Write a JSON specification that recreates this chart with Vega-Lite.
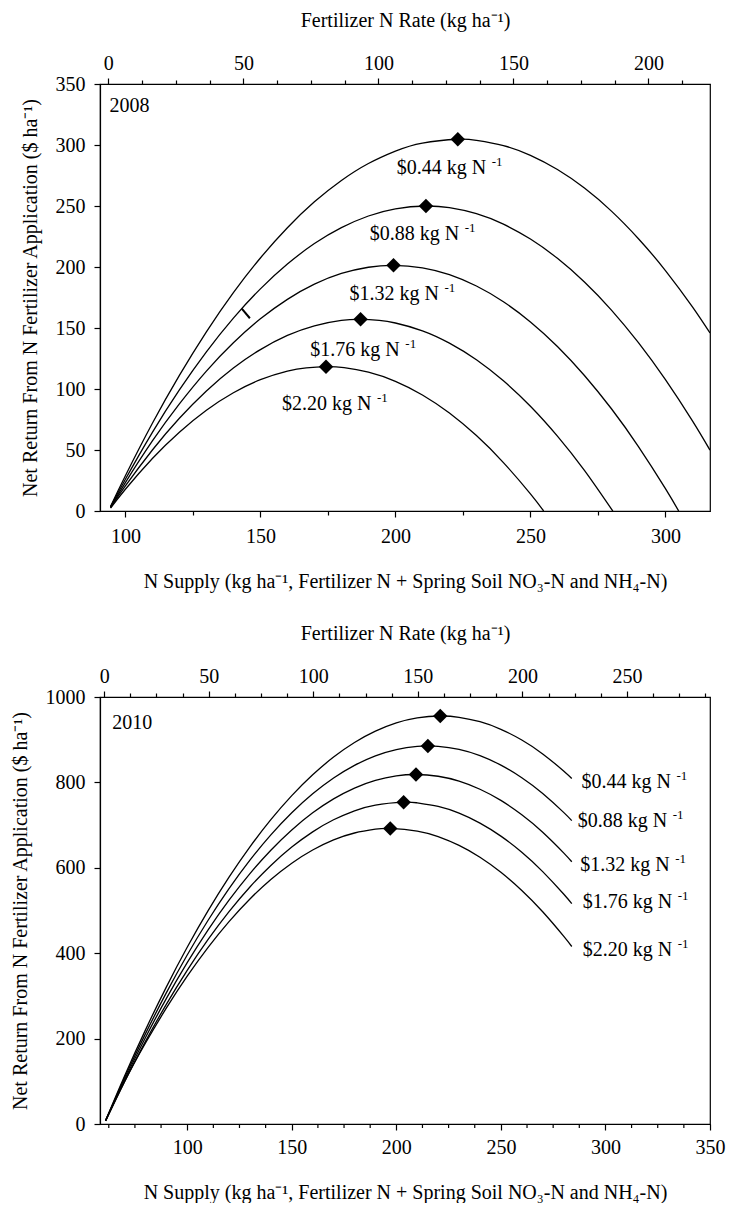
{
  "$schema": "https://vega.github.io/schema/vega-lite/v6.json",
  "padding": {"left": 9, "top": 9, "right": 0, "bottom": 0},
  "spacing": 30,
  "config": {
    "font": "Liberation Serif",
    "view": {"stroke": "black", "strokeWidth": 1.2},
    "axis": {"domainColor": "black", "tickColor": "black", "labelColor": "black", "titleColor": "black", "labelFontSize": 20, "titleFontSize": 20, "titleFontWeight": "normal", "labelFont": "Liberation Serif", "titleFont": "Liberation Serif", "grid": false, "tickSize": 6, "labelPadding": 4, "domainWidth": 1.2, "tickWidth": 1.2, "labelOverlap": false, "labelFlush": false, "format": "d"},
    "text": {"font": "Liberation Serif", "color": "black"}
  },
  "datasets": {
    "c2008": [
      {"price": "0.44", "N": 94.5, "R": 3.7}, {"price": "0.44", "N": 100, "R": 28.9}, {"price": "0.44", "N": 110, "R": 71.9}, {"price": "0.44", "N": 120, "R": 111.2}, {"price": "0.44", "N": 130, "R": 146.9}, {"price": "0.44", "N": 140, "R": 179.0}, {"price": "0.44", "N": 150, "R": 207.4}, {"price": "0.44", "N": 160, "R": 232.2}, {"price": "0.44", "N": 170, "R": 253.4}, {"price": "0.44", "N": 180, "R": 270.9}, {"price": "0.44", "N": 190, "R": 284.8}, {"price": "0.44", "N": 200, "R": 295.0}, {"price": "0.44", "N": 210, "R": 301.6}, {"price": "0.44", "N": 223.1, "R": 304.7}, {"price": "0.44", "N": 230, "R": 303.8}, {"price": "0.44", "N": 240, "R": 299.5}, {"price": "0.44", "N": 250, "R": 291.5}, {"price": "0.44", "N": 260, "R": 279.9}, {"price": "0.44", "N": 270, "R": 264.7}, {"price": "0.44", "N": 280, "R": 245.8}, {"price": "0.44", "N": 290, "R": 223.2}, {"price": "0.44", "N": 300, "R": 197.1}, {"price": "0.44", "N": 310, "R": 167.3}, {"price": "0.44", "N": 316.5, "R": 145.9},
      {"price": "0.88", "N": 94.5, "R": 3.4}, {"price": "0.88", "N": 100, "R": 26.0}, {"price": "0.88", "N": 110, "R": 64.5}, {"price": "0.88", "N": 120, "R": 99.3}, {"price": "0.88", "N": 130, "R": 130.5}, {"price": "0.88", "N": 140, "R": 158.1}, {"price": "0.88", "N": 150, "R": 182.1}, {"price": "0.88", "N": 160, "R": 202.4}, {"price": "0.88", "N": 170, "R": 219.2}, {"price": "0.88", "N": 180, "R": 232.3}, {"price": "0.88", "N": 190, "R": 241.8}, {"price": "0.88", "N": 200, "R": 247.7}, {"price": "0.88", "N": 211.3, "R": 250.0}, {"price": "0.88", "N": 220, "R": 248.6}, {"price": "0.88", "N": 230, "R": 243.7}, {"price": "0.88", "N": 240, "R": 235.1}, {"price": "0.88", "N": 250, "R": 222.9}, {"price": "0.88", "N": 260, "R": 207.1}, {"price": "0.88", "N": 270, "R": 187.7}, {"price": "0.88", "N": 280, "R": 164.7}, {"price": "0.88", "N": 290, "R": 138.0}, {"price": "0.88", "N": 300, "R": 107.7}, {"price": "0.88", "N": 310, "R": 73.9}, {"price": "0.88", "N": 316.5, "R": 49.9},
      {"price": "1.32", "N": 94.5, "R": 3.0}, {"price": "1.32", "N": 100, "R": 23.3}, {"price": "1.32", "N": 110, "R": 57.4}, {"price": "1.32", "N": 120, "R": 87.8}, {"price": "1.32", "N": 130, "R": 114.7}, {"price": "1.32", "N": 140, "R": 137.9}, {"price": "1.32", "N": 150, "R": 157.5}, {"price": "1.32", "N": 160, "R": 173.5}, {"price": "1.32", "N": 170, "R": 185.9}, {"price": "1.32", "N": 180, "R": 194.7}, {"price": "1.32", "N": 190, "R": 199.8}, {"price": "1.32", "N": 199.3, "R": 201.4}, {"price": "1.32", "N": 210, "R": 199.3}, {"price": "1.32", "N": 220, "R": 193.7}, {"price": "1.32", "N": 230, "R": 184.4}, {"price": "1.32", "N": 240, "R": 171.5}, {"price": "1.32", "N": 250, "R": 155.0}, {"price": "1.32", "N": 260, "R": 134.9}, {"price": "1.32", "N": 270, "R": 111.1}, {"price": "1.32", "N": 280, "R": 83.8}, {"price": "1.32", "N": 290, "R": 52.8}, {"price": "1.32", "N": 300, "R": 18.3}, {"price": "1.32", "N": 304.9, "R": 0},
      {"price": "1.76", "N": 94.5, "R": 2.7}, {"price": "1.76", "N": 100, "R": 20.5}, {"price": "1.76", "N": 110, "R": 50.0}, {"price": "1.76", "N": 120, "R": 76.0}, {"price": "1.76", "N": 130, "R": 98.4}, {"price": "1.76", "N": 140, "R": 117.2}, {"price": "1.76", "N": 150, "R": 132.3}, {"price": "1.76", "N": 160, "R": 143.9}, {"price": "1.76", "N": 170, "R": 151.8}, {"price": "1.76", "N": 180, "R": 156.2}, {"price": "1.76", "N": 187.1, "R": 157.1}, {"price": "1.76", "N": 194, "R": 156.2}, {"price": "1.76", "N": 200, "R": 154.1}, {"price": "1.76", "N": 210, "R": 147.7}, {"price": "1.76", "N": 220, "R": 137.6}, {"price": "1.76", "N": 230, "R": 124.0}, {"price": "1.76", "N": 240, "R": 106.7}, {"price": "1.76", "N": 250, "R": 85.9}, {"price": "1.76", "N": 260, "R": 61.4}, {"price": "1.76", "N": 270, "R": 33.3}, {"price": "1.76", "N": 280.5, "R": 0},
      {"price": "2.20", "N": 94.5, "R": 2.3}, {"price": "2.20", "N": 100, "R": 17.8}, {"price": "2.20", "N": 110, "R": 43.0}, {"price": "2.20", "N": 120, "R": 64.6}, {"price": "2.20", "N": 130, "R": 82.6}, {"price": "2.20", "N": 140, "R": 96.9}, {"price": "2.20", "N": 150, "R": 107.6}, {"price": "2.20", "N": 160, "R": 114.6}, {"price": "2.20", "N": 167, "R": 117.3}, {"price": "2.20", "N": 174.3, "R": 118.3}, {"price": "2.20", "N": 181, "R": 117.5}, {"price": "2.20", "N": 190, "R": 113.8}, {"price": "2.20", "N": 200, "R": 106.3}, {"price": "2.20", "N": 210, "R": 95.1}, {"price": "2.20", "N": 220, "R": 80.3}, {"price": "2.20", "N": 230, "R": 61.8}, {"price": "2.20", "N": 240, "R": 39.7}, {"price": "2.20", "N": 250, "R": 14.0}, {"price": "2.20", "N": 254.9, "R": 0}
    ],
    "p2008": [
      {"N": 223.1, "R": 304.7}, {"N": 211.3, "R": 250.0}, {"N": 199.3, "R": 201.4}, {"N": 187.1, "R": 157.1}, {"N": 174.3, "R": 118.3}
    ],
    "l2008": [
      {"N": 200.5, "R": 281.4, "label": "$0.44 kg N"}, {"N": 190.5, "R": 227.3, "label": "$0.88 kg N"}, {"N": 183.0, "R": 177.6, "label": "$1.32 kg N"}, {"N": 168.5, "R": 132.1, "label": "$1.76 kg N"}, {"N": 158.0, "R": 88.0, "label": "$2.20 kg N"}
    ],
    "mark2008": [{"N": 143.1, "R": 165.9, "N2": 146.1, "R2": 158.0}],
    "yr2008": [{"N": 94.1, "R": 332, "label": "2008"}],
    "top2008": [{"F": 0}, {"F": 200}],
    "c2010": [
      {"price": "0.44", "N": 61, "R": 8.3}, {"price": "0.44", "N": 70, "R": 111.9}, {"price": "0.44", "N": 80, "R": 219.9}, {"price": "0.44", "N": 90, "R": 320.5}, {"price": "0.44", "N": 100, "R": 413.8}, {"price": "0.44", "N": 110, "R": 499.6}, {"price": "0.44", "N": 120, "R": 578.1}, {"price": "0.44", "N": 130, "R": 649.1}, {"price": "0.44", "N": 140, "R": 712.7}, {"price": "0.44", "N": 150, "R": 769.0}, {"price": "0.44", "N": 160, "R": 817.8}, {"price": "0.44", "N": 170, "R": 859.3}, {"price": "0.44", "N": 180, "R": 893.3}, {"price": "0.44", "N": 190, "R": 919.9}, {"price": "0.44", "N": 200, "R": 939.2}, {"price": "0.44", "N": 210, "R": 951.0}, {"price": "0.44", "N": 221, "R": 955.5}, {"price": "0.44", "N": 230, "R": 952.5}, {"price": "0.44", "N": 240, "R": 942.1}, {"price": "0.44", "N": 250, "R": 924.4}, {"price": "0.44", "N": 260, "R": 899.2}, {"price": "0.44", "N": 270, "R": 866.7}, {"price": "0.44", "N": 280, "R": 826.7}, {"price": "0.44", "N": 283.9, "R": 809.1},
      {"price": "0.88", "N": 61, "R": 7.9}, {"price": "0.88", "N": 70, "R": 107.5}, {"price": "0.88", "N": 80, "R": 211.0}, {"price": "0.88", "N": 90, "R": 307.1}, {"price": "0.88", "N": 100, "R": 395.9}, {"price": "0.88", "N": 110, "R": 477.2}, {"price": "0.88", "N": 120, "R": 551.2}, {"price": "0.88", "N": 130, "R": 617.8}, {"price": "0.88", "N": 140, "R": 677.0}, {"price": "0.88", "N": 150, "R": 728.8}, {"price": "0.88", "N": 160, "R": 773.2}, {"price": "0.88", "N": 170, "R": 810.2}, {"price": "0.88", "N": 180, "R": 839.9}, {"price": "0.88", "N": 190, "R": 862.1}, {"price": "0.88", "N": 200, "R": 877.0}, {"price": "0.88", "N": 210, "R": 884.4}, {"price": "0.88", "N": 215.1, "R": 885.4}, {"price": "0.88", "N": 220, "R": 884.5}, {"price": "0.88", "N": 230, "R": 877.2}, {"price": "0.88", "N": 240, "R": 862.5}, {"price": "0.88", "N": 250, "R": 840.4}, {"price": "0.88", "N": 260, "R": 810.9}, {"price": "0.88", "N": 270, "R": 774.0}, {"price": "0.88", "N": 280, "R": 729.8}, {"price": "0.88", "N": 283.9, "R": 710.5},
      {"price": "1.32", "N": 61, "R": 7.6}, {"price": "1.32", "N": 70, "R": 103.0}, {"price": "1.32", "N": 80, "R": 202.0}, {"price": "1.32", "N": 90, "R": 293.6}, {"price": "1.32", "N": 100, "R": 377.8}, {"price": "1.32", "N": 110, "R": 454.7}, {"price": "1.32", "N": 120, "R": 524.2}, {"price": "1.32", "N": 130, "R": 586.4}, {"price": "1.32", "N": 140, "R": 641.2}, {"price": "1.32", "N": 150, "R": 688.6}, {"price": "1.32", "N": 160, "R": 728.7}, {"price": "1.32", "N": 170, "R": 761.4}, {"price": "1.32", "N": 180, "R": 786.7}, {"price": "1.32", "N": 190, "R": 804.7}, {"price": "1.32", "N": 200, "R": 815.2}, {"price": "1.32", "N": 209.4, "R": 818.5}, {"price": "1.32", "N": 220, "R": 814.4}, {"price": "1.32", "N": 230, "R": 802.9}, {"price": "1.32", "N": 240, "R": 784.0}, {"price": "1.32", "N": 250, "R": 757.8}, {"price": "1.32", "N": 260, "R": 724.2}, {"price": "1.32", "N": 270, "R": 683.3}, {"price": "1.32", "N": 280, "R": 635.0}, {"price": "1.32", "N": 283.9, "R": 614.1},
      {"price": "1.76", "N": 61, "R": 7.2}, {"price": "1.76", "N": 70, "R": 98.6}, {"price": "1.76", "N": 80, "R": 193.0}, {"price": "1.76", "N": 90, "R": 280.2}, {"price": "1.76", "N": 100, "R": 359.9}, {"price": "1.76", "N": 110, "R": 432.3}, {"price": "1.76", "N": 120, "R": 497.4}, {"price": "1.76", "N": 130, "R": 555.1}, {"price": "1.76", "N": 140, "R": 605.5}, {"price": "1.76", "N": 150, "R": 648.5}, {"price": "1.76", "N": 160, "R": 684.2}, {"price": "1.76", "N": 170, "R": 712.5}, {"price": "1.76", "N": 180, "R": 733.4}, {"price": "1.76", "N": 190, "R": 747.0}, {"price": "1.76", "N": 203.5, "R": 753.7}, {"price": "1.76", "N": 210, "R": 752.1}, {"price": "1.76", "N": 220, "R": 743.7}, {"price": "1.76", "N": 230, "R": 727.9}, {"price": "1.76", "N": 240, "R": 704.7}, {"price": "1.76", "N": 250, "R": 674.2}, {"price": "1.76", "N": 260, "R": 636.4}, {"price": "1.76", "N": 270, "R": 591.1}, {"price": "1.76", "N": 280, "R": 538.6}, {"price": "1.76", "N": 283.9, "R": 516.1},
      {"price": "2.20", "N": 61, "R": 9.0}, {"price": "2.20", "N": 70, "R": 99.3}, {"price": "2.20", "N": 80, "R": 189.0}, {"price": "2.20", "N": 90, "R": 271.2}, {"price": "2.20", "N": 100, "R": 346.2}, {"price": "2.20", "N": 110, "R": 413.8}, {"price": "2.20", "N": 120, "R": 474.1}, {"price": "2.20", "N": 130, "R": 527.0}, {"price": "2.20", "N": 140, "R": 572.6}, {"price": "2.20", "N": 150, "R": 610.8}, {"price": "2.20", "N": 160, "R": 641.7}, {"price": "2.20", "N": 170, "R": 665.3}, {"price": "2.20", "N": 180, "R": 681.5}, {"price": "2.20", "N": 190, "R": 690.4}, {"price": "2.20", "N": 197.1, "R": 692.2}, {"price": "2.20", "N": 210, "R": 686.1}, {"price": "2.20", "N": 220, "R": 673.0}, {"price": "2.20", "N": 230, "R": 652.5}, {"price": "2.20", "N": 240, "R": 624.7}, {"price": "2.20", "N": 250, "R": 589.5}, {"price": "2.20", "N": 260, "R": 547.0}, {"price": "2.20", "N": 270, "R": 497.2}, {"price": "2.20", "N": 280, "R": 440.0}, {"price": "2.20", "N": 283.9, "R": 415.7}
    ],
    "p2010": [
      {"N": 221.0, "R": 955.5}, {"N": 215.1, "R": 885.4}, {"N": 209.4, "R": 818.5}, {"N": 203.5, "R": 753.7}, {"N": 197.1, "R": 692.2}
    ],
    "l2010": [
      {"N": 288.5, "R": 799.8, "label": "$0.44 kg N"}, {"N": 286.7, "R": 710.0, "label": "$0.88 kg N"}, {"N": 287.9, "R": 606.4, "label": "$1.32 kg N"}, {"N": 289.1, "R": 520.6, "label": "$1.76 kg N"}, {"N": 289.1, "R": 407.6, "label": "$2.20 kg N"}
    ],
    "yr2010": [{"N": 64.2, "R": 940, "label": "2010"}],
    "minor2010": [{"N": 62.5}, {"N": 75}, {"N": 87.5}, {"N": 112.5}, {"N": 125}, {"N": 137.5}, {"N": 162.5}, {"N": 175}, {"N": 187.5}, {"N": 212.5}, {"N": 225}, {"N": 237.5}, {"N": 262.5}, {"N": 275}, {"N": 287.5}, {"N": 312.5}, {"N": 325}, {"N": 337.5}],
    "top2010": [{"F": 0}, {"F": 250}]
  },
  "vconcat": [
    {
      "width": 610,
      "height": 427,
      "layer": [
        {
          "layer": [
            {
              "data": {"name": "c2008"},
              "mark": {"type": "line", "interpolate": "natural", "color": "black", "strokeWidth": 1.3, "clip": true},
              "encoding": {
                "x": {"field": "N", "type": "quantitative", "scale": {"domain": [90.6, 316.5], "nice": false, "zero": false},
                  "axis": {"orient": "bottom", "values": [100, 112.5, 125, 137.5, 150, 162.5, 175, 187.5, 200, 212.5, 225, 237.5, 250, 262.5, 275, 287.5, 300, 312.5], "labelExpr": "indexof(['100','150','200','250','300','350'], datum.label) >= 0 ? datum.label : ''", "labelOverlap": false, "tickSize": {"condition": {"test": "datum.value % 50 === 0", "value": 6}, "value": 4}, "labelPadding": 9, "title": "N Supply (kg ha⁻¹, Fertilizer N + Spring Soil NO₃-N and NH₄-N)", "titlePadding": 25}},
                "y": {"field": "R", "type": "quantitative", "scale": {"domain": [0, 350], "nice": false},
                  "axis": {"values": [0, 50, 100, 150, 200, 250, 300, 350], "labelPadding": 9, "title": "Net Return From N Fertilizer Application ($ ha⁻¹)", "titlePadding": 15}},
                "detail": {"field": "price"}
              }
            },
            {
              "data": {"name": "p2008"},
              "mark": {"type": "point", "shape": "diamond", "filled": true, "color": "black", "size": 210, "opacity": 1},
              "encoding": {"x": {"field": "N", "type": "quantitative"}, "y": {"field": "R", "type": "quantitative"}}
            },
            {
              "data": {"name": "l2008"},
              "mark": {"type": "text", "align": "left", "baseline": "middle", "fontSize": 20},
              "encoding": {"x": {"field": "N", "type": "quantitative"}, "y": {"field": "R", "type": "quantitative"}, "text": {"field": "label"}}
            },
            {
              "data": {"name": "l2008"},
              "mark": {"type": "text", "align": "left", "baseline": "middle", "fontSize": 13, "dx": 95, "dy": -6},
              "encoding": {"x": {"field": "N", "type": "quantitative"}, "y": {"field": "R", "type": "quantitative"}, "text": {"value": "-1"}}
            },
            {
              "data": {"name": "mark2008"},
              "mark": {"type": "rule", "color": "black", "strokeWidth": 2},
              "encoding": {"x": {"field": "N", "type": "quantitative"}, "y": {"field": "R", "type": "quantitative"}, "x2": {"field": "N2"}, "y2": {"field": "R2"}}
            },
            {
              "data": {"name": "yr2008"},
              "mark": {"type": "text", "align": "left", "baseline": "middle", "fontSize": 20},
              "encoding": {"x": {"field": "N", "type": "quantitative"}, "y": {"field": "R", "type": "quantitative"}, "text": {"field": "label"}}
            }
          ]
        },
        {
          "data": {"name": "top2008"},
          "mark": {"type": "point", "opacity": 0},
          "encoding": {
            "x": {"field": "F", "type": "quantitative", "scale": {"domain": [-3.1, 222.8], "nice": false, "zero": false},
              "axis": {"orient": "top", "values": [0, 12.5, 25, 37.5, 50, 62.5, 75, 87.5, 100, 112.5, 125, 137.5, 150, 162.5, 175, 187.5, 200, 212.5], "labelExpr": "indexof(['0','50','100','150','200','250'], datum.label) >= 0 ? datum.label : ''", "labelOverlap": false, "tickSize": {"condition": {"test": "datum.value % 50 === 0", "value": 6}, "value": 4}, "labelPadding": 5, "title": "Fertilizer N Rate (kg ha⁻¹)", "titlePadding": 23}}
          }
        }
      ],
      "resolve": {"scale": {"x": "independent"}}
    },
    {
      "width": 610,
      "height": 427,
      "layer": [
        {
          "layer": [
            {
              "data": {"name": "c2010"},
              "mark": {"type": "line", "interpolate": "natural", "color": "black", "strokeWidth": 1.3, "clip": true},
              "encoding": {
                "x": {"field": "N", "type": "quantitative", "scale": {"domain": [58.3, 350], "nice": false, "zero": false},
                  "axis": {"orient": "bottom", "values": [100, 150, 200, 250, 300, 350], "labelOverlap": false, "tickSize": 6, "labelPadding": 7, "title": "N Supply (kg ha⁻¹, Fertilizer N + Spring Soil NO₃-N and NH₄-N)", "titlePadding": 25}},
                "y": {"field": "R", "type": "quantitative", "scale": {"domain": [0, 1000], "nice": false},
                  "axis": {"values": [0, 200, 400, 600, 800, 1000], "labelPadding": 9, "title": "Net Return From N Fertilizer Application ($ ha⁻¹)", "titlePadding": 15}},
                "detail": {"field": "price"}
              }
            },
            {
              "data": {"name": "minor2010"},
              "mark": {"type": "rule", "color": "black", "strokeWidth": 1.2, "clip": false},
              "encoding": {"x": {"field": "N", "type": "quantitative"}, "y": {"datum": 0, "type": "quantitative"}, "y2": {"datum": -9.4}}
            },
            {
              "data": {"name": "p2010"},
              "mark": {"type": "point", "shape": "diamond", "filled": true, "color": "black", "size": 210, "opacity": 1},
              "encoding": {"x": {"field": "N", "type": "quantitative"}, "y": {"field": "R", "type": "quantitative"}}
            },
            {
              "data": {"name": "l2010"},
              "mark": {"type": "text", "align": "left", "baseline": "middle", "fontSize": 20},
              "encoding": {"x": {"field": "N", "type": "quantitative"}, "y": {"field": "R", "type": "quantitative"}, "text": {"field": "label"}}
            },
            {
              "data": {"name": "l2010"},
              "mark": {"type": "text", "align": "left", "baseline": "middle", "fontSize": 13, "dx": 95, "dy": -6},
              "encoding": {"x": {"field": "N", "type": "quantitative"}, "y": {"field": "R", "type": "quantitative"}, "text": {"value": "-1"}}
            },
            {
              "data": {"name": "yr2010"},
              "mark": {"type": "text", "align": "left", "baseline": "middle", "fontSize": 20},
              "encoding": {"x": {"field": "N", "type": "quantitative"}, "y": {"field": "R", "type": "quantitative"}, "text": {"field": "label"}}
            }
          ]
        },
        {
          "data": {"name": "top2010"},
          "mark": {"type": "point", "opacity": 0},
          "encoding": {
            "x": {"field": "F", "type": "quantitative", "scale": {"domain": [-2, 289.7], "nice": false, "zero": false},
              "axis": {"orient": "top", "values": [0, 12.5, 25, 37.5, 50, 62.5, 75, 87.5, 100, 112.5, 125, 137.5, 150, 162.5, 175, 187.5, 200, 212.5, 225, 237.5, 250, 262.5, 275, 287.5], "labelExpr": "indexof(['0','50','100','150','200','250'], datum.label) >= 0 ? datum.label : ''", "labelOverlap": false, "tickSize": {"condition": {"test": "datum.value % 50 === 0", "value": 6}, "value": 4}, "labelPadding": 5, "title": "Fertilizer N Rate (kg ha⁻¹)", "titlePadding": 23}}
          }
        }
      ],
      "resolve": {"scale": {"x": "independent"}}
    }
  ]
}
